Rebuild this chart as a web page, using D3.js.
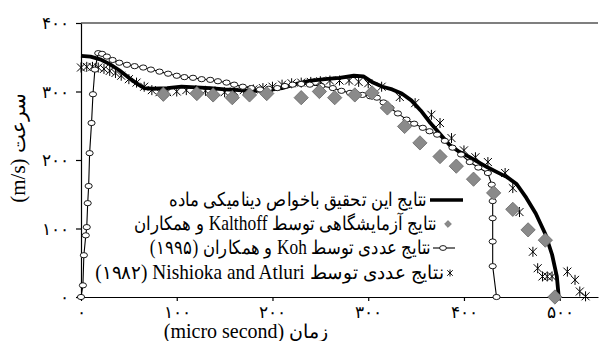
<!DOCTYPE html>
<html>
<head>
<meta charset="utf-8">
<script src="https://cdn.jsdelivr.net/npm/d3@7/dist/d3.min.js"></script>
<style>
  @font-face {
    font-family: "FaText";
    src: local("DejaVu Sans");
    size-adjust: 96%;
    unicode-range: U+0600-06FF, U+200F, U+FB50-FDFF, U+FE70-FEFF;
  }
  body { margin: 0; background: #fff; }
  svg text { font-family: "Liberation Serif", "FaText", "DejaVu Sans", serif; fill: #000; }
</style>
</head>
<body>
<svg id="chart" width="599" height="341"></svg>
<script>
// axis ticks
const xTicks = [0, 100, 200, 300, 400, 500];
const xTickLabels = ["۰", "۱۰۰", "۲۰۰", "۳۰۰", "۴۰۰", "۵۰۰"];
const yTicks = [0, 100, 200, 300, 400];
const yTickLabels = ["۰", "۱۰۰", "۲۰۰", "۳۰۰", "۴۰۰"];

const xTitle = "(micro second) زمان";
const yTitle = "(m/s)  سرعت";

const legendLabels = [
  "نتایج این تحقیق باخواص دینامیکی ماده",
  "نتایج آزمایشگاهی توسط Kalthoff و همکاران",
  "نتایج عددی توسط Koh و همکاران (۱۹۹۵)",
  "نتایج عددی توسط Nishioka and Atluri \u200F(۱۹۸۲)"
];

// this research (thick black line)
const presentTime  = [0, 10, 20, 30, 40, 50, 60, 66, 75, 90, 105, 120, 135, 150, 165, 180, 195, 210, 225, 240, 255, 270, 285, 295, 305, 315, 325, 335, 345, 355, 365, 375, 385, 395, 405, 415, 425, 435, 445, 455, 465, 475, 485, 492, 497, 499];
const presentSpeed = [352, 351, 347, 340, 331, 320, 310, 305, 304, 305, 307, 306, 305, 303, 302, 301, 302, 305, 311, 316, 318, 320, 323, 322, 313, 307, 303, 297, 287, 272, 254, 238, 222, 212, 205, 197, 189, 182, 175, 165, 145, 122, 92, 62, 30, 0];

// Kalthoff experiment (grey diamonds)
const kalthoffTime  = [86, 121, 138, 158, 176, 194, 230, 249, 265, 286, 304, 320, 338, 354, 375, 392, 410, 431, 451, 467, 485, 495];
const kalthoffSpeed = [296, 297, 295, 291, 295, 297, 291, 300, 291, 295, 298, 276, 249, 225, 205, 191, 172, 152, 128, 98, 83, 0];

// Koh (1995) (line with circles)
const kohTime  = [0, 2, 3, 5, 6, 7, 8, 9, 11, 12.5, 14.5, 18, 22, 27, 33, 40, 48, 56, 65, 73, 82, 91, 100, 108, 117, 126, 135, 143, 152, 160, 169, 178, 187, 196, 205, 213, 221, 230, 239, 251, 263, 272, 281, 288, 294, 302, 309, 316, 323, 331, 340, 348, 357, 364, 372, 380, 388, 397, 406, 415, 425, 429, 430, 430, 430, 430, 434];
const kohSpeed = [0, 17, 61, 90, 102, 137, 162, 210, 254, 296, 332, 356, 355, 351, 346, 342, 339, 337, 335, 332, 329, 326, 323, 321, 320, 318, 317, 315, 313, 310, 307, 305, 303, 304, 305, 308, 310, 311, 310, 308, 305, 301, 298, 296, 295, 293, 291, 284, 276, 268, 259, 253, 247, 242, 237, 228, 218, 208, 197, 189, 181, 164, 140, 115, 81, 45, 0];

// Nishioka and Atluri (1982) (stars)
const nishiokaTime  = [0, 6, 12, 18, 24, 30, 36, 42, 50, 58, 66, 74, 82, 90, 100, 110, 120, 130, 140, 150, 160, 170, 180, 190, 200, 210, 220, 230, 240, 250, 260, 270, 280, 290, 300, 314, 333, 349, 366, 375, 387, 400, 412, 425, 443, 451, 458, 472, 477, 482, 487, 492, 508, 516, 521, 527];
const nishiokaSpeed = [335, 336, 336, 335, 333, 330, 327, 323, 318, 313, 307, 302, 299, 299, 300, 302, 302, 301, 300, 299, 300, 302, 303, 305, 307, 310, 312, 313, 314, 315, 316, 316, 316, 314, 312, 307, 292, 283, 266, 254, 232, 214, 204, 197, 181, 159, 124, 66, 42, 30, 30, 30, 37, 25, 8, 1];

const zip = (a, b) => a.map((d, i) => [d, b[i]]);

function draw() {
  const svg = d3.select('#chart');

  const x = d3.scaleLinear().domain([0, 540]).range([81, 598]);
  const y = d3.scaleLinear().domain([0, 400]).range([297, 23]);

  // top border
  svg.append('line')
    .attr('x1', x(0)).attr('x2', x(540))
    .attr('y1', y(400)).attr('y2', y(400))
    .attr('stroke', '#000').attr('stroke-width', 1.2);

  const xAxis = svg.append('g')
    .attr('transform', `translate(0,${y(0)})`)
    .call(d3.axisBottom(x).tickValues(xTicks)
      .tickFormat((d, i) => xTickLabels[i])
      .tickSizeInner(4).tickSizeOuter(0).tickPadding(4));

  const yAxis = svg.append('g')
    .attr('transform', `translate(${x(0)},0)`)
    .call(d3.axisLeft(y).tickValues(yTicks)
      .tickFormat((d, i) => yTickLabels[i])
      .tickSizeInner(5).tickSizeOuter(0).tickPadding(7));

  [xAxis, yAxis].forEach(g => {
    g.selectAll('path, line').attr('stroke', '#000').attr('stroke-width', 1.2);
    g.selectAll('text').attr('font-size', 18).attr('fill', '#000')
      .attr('letter-spacing', 1)
      .style('font-family', '"FaText", "DejaVu Sans"');
  });

  // Koh line + circles
  const line = d3.line().x(d => x(d[0])).y(d => y(d[1]));
  const koh = zip(kohTime, kohSpeed);
  svg.append('path').datum(koh)
    .attr('d', line).attr('fill', 'none')
    .attr('stroke', '#000').attr('stroke-width', 1.1);

  // this research
  svg.append('path').datum(zip(presentTime, presentSpeed))
    .attr('d', line).attr('fill', 'none')
    .attr('stroke', '#000').attr('stroke-width', 3.8)
    .attr('stroke-linejoin', 'round');

  // Nishioka stars
  const star = 'M-4,-4L4,4M-4,4L4,-4M0,-5L0,5';
  svg.append('g').selectAll('path')
    .data(zip(nishiokaTime, nishiokaSpeed)).enter().append('path')
    .attr('transform', d => `translate(${x(d[0])},${y(d[1])})`)
    .attr('d', star).attr('stroke', '#000').attr('stroke-width', 1).attr('fill', 'none');

  svg.append('g').selectAll('ellipse')
    .data(koh).enter().append('ellipse')
    .attr('cx', d => x(d[0])).attr('cy', d => y(d[1]))
    .attr('rx', 3.6).attr('ry', 2.6)
    .attr('fill', '#fff').attr('stroke', '#000').attr('stroke-width', 0.9);

  // Kalthoff diamonds
  const diamond = d3.symbol().type(d3.symbolDiamond2).size(130);
  svg.append('g').selectAll('path')
    .data(zip(kalthoffTime, kalthoffSpeed)).enter().append('path')
    .attr('transform', d => `translate(${x(d[0])},${y(d[1])})`)
    .attr('d', diamond).attr('fill', '#8a8a8a').attr('stroke', '#666').attr('stroke-width', 0.8);

  // axis titles
  svg.append('text')
    .attr('x', 246).attr('y', 338)
    .attr('text-anchor', 'middle').attr('font-size', 20)
    .text(xTitle);

  svg.append('text')
    .attr('transform', 'translate(25,148) rotate(-90)')
    .attr('text-anchor', 'middle').attr('font-size', 21)
    .text(yTitle);

  // legend (right-to-left, marker on the right)
  const legendY = [200, 224, 248, 273];
  const textRight = [427, 437, 431, 444];
  const textWidth = [257, 302, 277, 346];
  const lg = svg.append('g');
  legendLabels.forEach((label, i) => {
    const t = lg.append('text')
      .attr('x', 0).attr('y', 0)
      .attr('direction', 'rtl').style('direction', 'rtl')
      .attr('text-anchor', 'start').attr('font-size', 20)
      .text(label);
    // fit each entry to the width it takes in the source figure
    const w = t.node().getComputedTextLength();
    const sx = w > 0 ? Math.max(0.8, Math.min(1.3, textWidth[i] / w)) : 1;
    t.attr('transform', `translate(${textRight[i]},${legendY[i] + 6}) scale(${sx},1)`);
  });
  lg.append('line')
    .attr('x1', 430).attr('x2', 463).attr('y1', legendY[0]).attr('y2', legendY[0])
    .attr('stroke', '#000').attr('stroke-width', 3.5);
  lg.append('path')
    .attr('transform', `translate(448,${legendY[1]})`)
    .attr('d', d3.symbol().type(d3.symbolDiamond2).size(30))
    .attr('fill', '#8a8a8a').attr('stroke', '#666').attr('stroke-width', 0.6);
  lg.append('line')
    .attr('x1', 433).attr('x2', 455).attr('y1', legendY[2]).attr('y2', legendY[2])
    .attr('stroke', '#000').attr('stroke-width', 1.1);
  lg.append('ellipse')
    .attr('cx', 443).attr('cy', legendY[2]).attr('rx', 3.4).attr('ry', 2.4)
    .attr('fill', '#fff').attr('stroke', '#000').attr('stroke-width', 0.9);
  lg.append('path')
    .attr('transform', `translate(450,${legendY[3]}) scale(0.7)`)
    .attr('d', star).attr('stroke', '#000').attr('stroke-width', 1.3).attr('fill', 'none');
}

document.fonts.load('18px FaText', 'نتایج').then(draw, draw);
</script>
</body>
</html>
